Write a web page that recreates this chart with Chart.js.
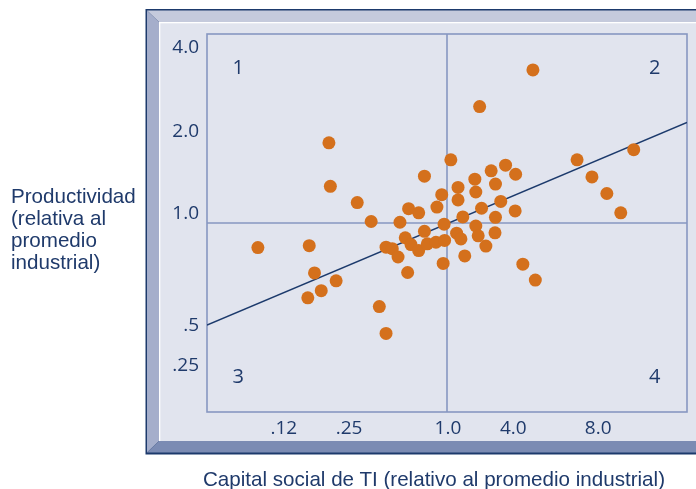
<!DOCTYPE html>
<html>
<head>
<meta charset="utf-8">
<script src="https://cdn.jsdelivr.net/npm/chart.js@4/dist/chart.umd.min.js"></script>
<style>
  html, body { margin: 0; padding: 0; background: #fff; }
  #wrap { position: relative; width: 696px; height: 489px; overflow: hidden; }
  canvas { position: absolute; left: 0; top: 0; }
  .lbl { position: absolute; font-family: "Liberation Sans", Arial, sans-serif; font-size: 20.6px; color: #1f3a6b; }
  #ylbl { left: 11px; top: 185px; line-height: 22px; }
  #xlbl { left: 0; width: 868px; top: 468px; line-height: 22px; text-align: center; white-space: nowrap; }
</style>
</head>
<body>
<div id="wrap">
  <canvas id="myChart" width="696" height="489"></canvas>
  <div class="lbl" id="ylbl">Productividad<br>(relativa al<br>promedio<br>industrial)</div>
  <div class="lbl" id="xlbl">Capital social de TI (relativo al promedio industrial)</div>
</div>
<script>
// values in plot units (0..100 along each axis, the printed scale is not regular)
const firmX = [10.6, 21.3, 22.4, 23.8, 21.0, 26.9, 25.4, 25.7, 31.3, 34.2,
               40.2, 42.0, 44.1, 45.3, 47.9, 48.9, 50.8, 52.3, 52.3, 55.8,
               56.0, 59.2, 60.1, 62.2, 64.3, 61.2, 57.2, 53.3, 60.1, 64.2,
               49.4, 56.0, 45.3, 41.3, 42.5, 37.3, 38.6, 39.8, 44.1, 45.9,
               47.7, 49.5, 52.0, 52.9, 56.5, 60.0, 58.1, 53.7, 49.2, 41.8,
               35.9, 37.3, 65.8, 68.4, 67.9, 56.8, 77.1, 88.9, 80.2, 83.3, 86.2];
const firmY = [43.5, 44.0, 36.8, 32.1, 30.2, 34.7, 71.2, 59.7, 55.4, 50.4,
               50.2, 53.8, 52.7, 62.4, 54.2, 57.5, 66.7, 59.4, 56.1, 61.6,
               58.2, 63.8, 60.3, 65.3, 62.9, 55.7, 53.9, 51.6, 51.5, 53.2,
               49.7, 49.2, 47.8, 46.1, 44.3, 43.6, 43.2, 41.0, 42.7, 44.5,
               44.9, 45.4, 47.3, 45.8, 46.6, 47.4, 43.9, 41.3, 39.3, 36.9,
               27.9, 20.8, 39.1, 34.9, 90.5, 80.8, 66.7, 69.4, 62.2, 57.8, 52.7];

const trendX = [0, 100];
const trendY = [23.0, 76.6];

const xTickPos = [16.0, 29.6, 50.2, 63.8, 81.5];
const xTickLabels = ['.12', '.25', '1.0', '4.0', '8.0'];
const yTickPos = [96.3, 74.3, 52.6, 22.8, 12.2];
const yTickLabels = ['4.0', '2.0', '1.0', '.5', '.25'];

const quadLineX = 50;
const quadLineY = 50;
const quadLabels = ['1', '2', '3', '4'];
const quadLabelX = [6.5, 93.3, 6.5, 93.3];
const quadLabelY = [90.9, 90.9, 9.1, 9.1];

const navy = '#1f3a6b';
const tickFont = { family: '"Open Sans", sans-serif', size: 19, weight: '500' };

const framePlugin = {
    id: 'frame',
    beforeDraw(chart) {
        const c = chart.ctx;
        c.save();
        c.fillStyle = '#fff';
        c.fillRect(0, 0, chart.width, chart.height);
        // outer dark line
        c.fillStyle = '#1d3a6c';
        c.fillRect(145.5, 9, 600, 445.5);
        // bevels
        const poly = (pts, col) => {
            c.beginPath();
            c.moveTo(pts[0][0], pts[0][1]);
            for (let i = 1; i < pts.length; i++) c.lineTo(pts[i][0], pts[i][1]);
            c.closePath();
            c.fillStyle = col;
            c.fill();
        };
        poly([[147, 10.5], [740, 10.5], [740, 22], [159, 22]], '#c5cadc');
        poly([[147, 10.5], [159, 22], [159, 441], [147, 452.5]], '#a5aecb');
        poly([[147, 452.5], [159, 441], [740, 441], [740, 452.5]], '#7b8bb3');
        c.fillStyle = '#fff';
        c.fillRect(159, 22, 600, 419);
        c.fillStyle = '#e1e4ee';
        c.fillRect(160.3, 23.3, 600, 417.7);
        c.restore();
    },
    beforeDatasetsDraw(chart) {
        const c = chart.ctx;
        const a = chart.chartArea;
        const xs = chart.scales.x, ys = chart.scales.y;
        c.save();
        c.strokeStyle = '#8797c1';
        c.lineWidth = 1.6;
        c.strokeRect(a.left, a.top, a.right - a.left, a.bottom - a.top);
        const qx = xs.getPixelForValue(quadLineX);
        const qy = ys.getPixelForValue(quadLineY);
        c.beginPath();
        c.moveTo(qx, a.top); c.lineTo(qx, a.bottom);
        c.moveTo(a.left, qy); c.lineTo(a.right, qy);
        c.stroke();
        // quadrant numbers
        c.fillStyle = navy;
        c.font = '500 20px "Open Sans", sans-serif';
        c.textAlign = 'center';
        c.textBaseline = 'middle';
        quadLabels.forEach((t, i) => {
            c.fillText(t, xs.getPixelForValue(quadLabelX[i]), ys.getPixelForValue(quadLabelY[i]));
        });
        c.restore();
    }
};

const ctx = document.getElementById('myChart').getContext('2d');
new Chart(ctx, {
    type: 'scatter',
    data: {
        datasets: [
            {
                label: 'Firmas',
                data: firmX.map((x, i) => ({ x: x, y: firmY[i] })),
                backgroundColor: '#d4701c',
                borderWidth: 0,
                pointRadius: 6.5,
                order: 1
            },
            {
                type: 'line',
                label: 'Tendencia',
                data: trendX.map((x, i) => ({ x: x, y: trendY[i] })),
                borderColor: '#1c3a6c',
                borderWidth: 1.5,
                pointRadius: 0,
                fill: false,
                order: 2
            }
        ]
    },
    options: {
        responsive: false,
        animation: false,
        events: [],
        layout: { padding: { left: 157, top: 34, right: 9, bottom: 0 } },
        plugins: {
            legend: { display: false },
            tooltip: { enabled: false }
        },
        scales: {
            x: {
                type: 'linear',
                min: 0,
                max: 100,
                grid: { display: false, drawTicks: false },
                border: { display: false },
                afterBuildTicks: (scale) => { scale.ticks = xTickPos.map(v => ({ value: v })); },
                afterFit: (scale) => { scale.height = 77; },
                ticks: {
                    autoSkip: false,
                    maxRotation: 0,
                    padding: 5,
                    color: navy,
                    font: tickFont,
                    callback: (v, i) => xTickLabels[i]
                }
            },
            y: {
                type: 'linear',
                min: 0,
                max: 100,
                grid: { display: false, drawTicks: false },
                border: { display: false },
                afterBuildTicks: (scale) => { scale.ticks = yTickPos.map(v => ({ value: v })); },
                afterFit: (scale) => { scale.width = 50; },
                ticks: {
                    autoSkip: false,
                    padding: 8,
                    color: navy,
                    font: tickFont,
                    callback: (v, i) => yTickLabels[i]
                }
            }
        }
    },
    plugins: [framePlugin]
});
</script>
</body>
</html>
